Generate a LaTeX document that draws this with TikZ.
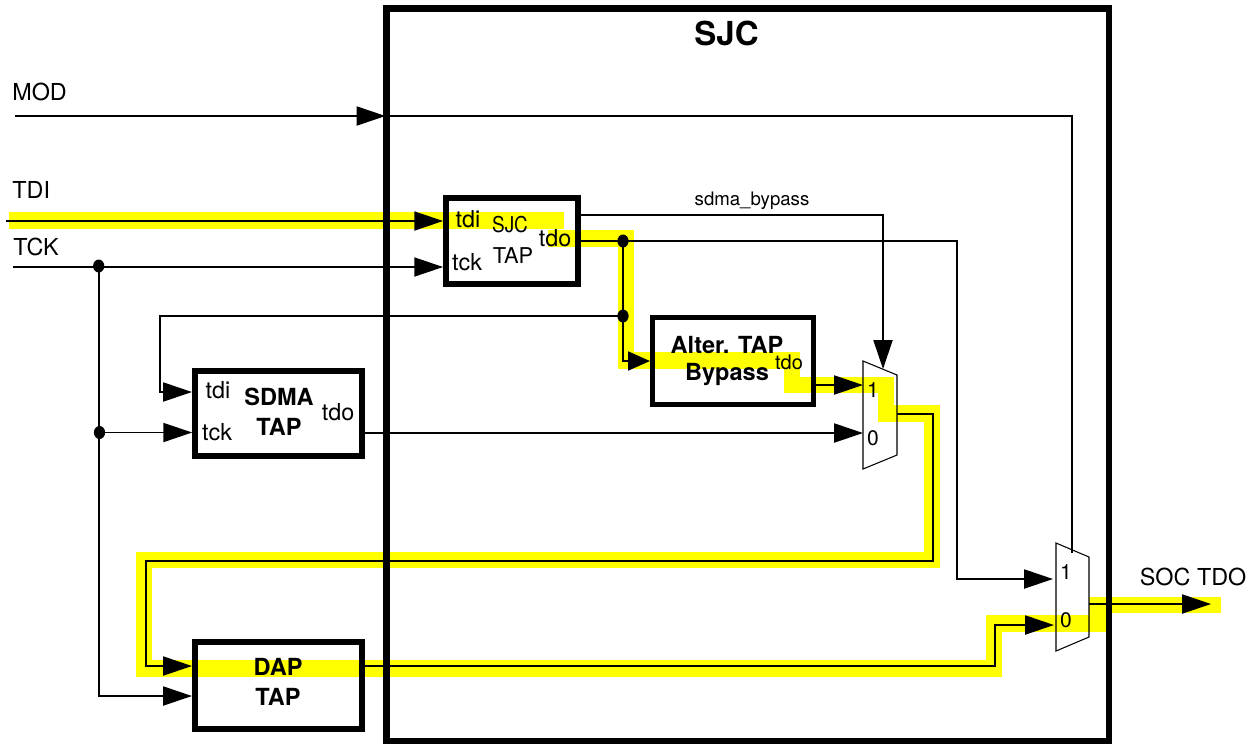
\documentclass[tikz,border=0pt]{standalone}
\usepackage{fontspec}
\setmainfont{TeX Gyre Heros}
\usetikzlibrary{arrows.meta, calc, shapes.geometric}
\definecolor{TraceYellow}{HTML}{FFFF00}
\newcommand{\LabelFont}{\fontsize{13.3pt}{15pt}\selectfont}
\newcommand{\TitleFont}{\bfseries\fontsize{18.8pt}{20pt}\selectfont}
\tikzset{
  wire/.style={line width=1.1pt},
  tipwire/.style={wire, -{Triangle[length=16.4pt,width=10.8pt]}},
  shorttip/.style={wire, -{Triangle[length=12.5pt,width=10.8pt]}},
  tracepath/.style={TraceYellow, line width=9.6pt, miter limit=10},
  muxline/.style={line width=0.6pt, line join=miter},
  tapbox/.style={draw, line width=3.3pt, inner sep=0pt},
  jdot/.style={ellipse, fill=black, inner sep=0pt, minimum width=6.4pt, minimum height=7.4pt},
  lab/.style={inner sep=0pt, font=\LabelFont},
  boxname/.style={inner sep=0pt, font=\bfseries\fontsize{13.4pt}{15pt}\selectfont}
}

\begin{document}
\begin{tikzpicture}[x=0.02cm, y=-0.02cm]
  \useasboundingbox (0,0) rectangle (1256,745);
  % highlighted scan route, under everything else
  \draw[tracepath] (9,220.5) -- (564,220.5);
  \draw[tracepath] (548,238.5) -- (626,238.5) -- (626,360.5) -- (792,360.5) -- (792,385)
    -- (886,385) -- (886,413.5) -- (932,413.5) -- (932,560) -- (144,560) -- (144,668.5)
    -- (994,668.5) -- (994,623.5) -- (1097.5,623.5) -- (1097.5,605) -- (1221,605);
  % outer block and the four boxes
  \node[draw, line width=3.9pt, inner sep=0pt, minimum width=14.46cm, minimum height=14.66cm] (sjc) at (747.5,374.5) {};
  \node[tapbox, minimum width=2.64cm, minimum height=1.72cm] (sjctap) at (512,241) {};
  \node[tapbox, minimum width=3.22cm, minimum height=1.74cm] (alter) at (733,361) {};
  \node[tapbox, minimum width=3.34cm, minimum height=1.70cm] (sdma) at (278.5,413.5) {};
  \node[tapbox, minimum width=3.34cm, minimum height=1.74cm] (dap) at (278.5,685.5) {};
  % muxes
  \draw[muxline] (863,361) -- (897,375) -- (897,455) -- (863,469) -- cycle;
  \draw[muxline] (1056,543) -- (1089,557) -- (1089,637) -- (1056,651) -- cycle;
  % free ends and ports
  \coordinate (modin) at (15,116);
  \coordinate (tdiin) at (6,221);
  \coordinate (tckin) at (13,267);
  \coordinate (bypass) at (578,215);
  \coordinate (muxaone) at (863,385);
  \coordinate (muxazero) at (863,433);
  \coordinate (muxasel) at (883,369);
  \coordinate (muxaout) at (897,414);
  \coordinate (muxbone) at (1053,579);
  \coordinate (muxbzero) at (1054,625);
  \coordinate (muxbsel) at (1072,553);
  \coordinate (muxbout) at (1089,604);
  \coordinate (socout) at (1211,604);
  \coordinate (alterin) at (650,361);
  \coordinate (sdmaup) at (160,316);
  \coordinate (sdmain) at (192,392);
  \coordinate (daptck) at (192,696);
  \coordinate (dapin) at (192,666);
  \coordinate (tdocorner) at (957,241);
  \coordinate (loopright) at (933,561);
  \coordinate (loopleft) at (146,561);
  \coordinate (dapjog) at (995,625);
  % junction dots
  \node[jdot] (dottck) at (98.7,266) {};
  \node[jdot] (dotsdma) at (99.5,432.5) {};
  \node[jdot] (dottdo) at (623,241) {};
  \node[jdot] (dotalt) at (623,316) {};
  % connectors
  \draw[tipwire, shorten >=-1.6pt] (modin) -- (modin -| sjc.west);
  \draw[wire] (modin -| sjc.west) -| (muxbsel);
  \draw[tipwire] (tdiin) -- (tdiin -| sjctap.west);
  \draw[tipwire] (tckin) -- (tckin -| sjctap.west);
  \draw[tipwire] (dottck.center) |- (daptck);
  \draw[tipwire] (dotsdma.center) -- (dotsdma.center -| sdma.west);
  \draw[tipwire] (sjctap.east |- bypass) -| (muxasel);
  \draw[wire] (sjctap.east |- tdocorner) -- (dottdo.center);
  \draw[tipwire] (dottdo.center) -- (tdocorner) |- (muxbone);
  \draw[shorttip] (dottdo.center) |- (alterin);
  \draw[tipwire] (dotalt.center) -- (sdmaup) |- (sdmain);
  \draw[tipwire] (alter.east |- muxaone) -- (muxaone);
  \draw[tipwire] (sdma.east |- muxazero) -- (muxazero);
  \draw[tipwire] (muxaout) -| (loopright) -- (loopleft) |- (dapin);
  \draw[tipwire] (dap.east |- dapin) -| (dapjog) -- (muxbzero);
  \draw[tipwire] (muxbout) -- (socout);
  % outside labels
  \node[lab, anchor=west] (modlab) at (12,92) {MOD};
  \node[lab, anchor=west] (tdilab) at (12,190) {TDI};
  \node[lab, anchor=west] (tcklab) at (13,247) {TCK};
  \node[lab, anchor=west] (soclab) at (1139.5,577) {SOC TDO};
  \node[inner sep=0pt, font=\TitleFont] (sjclab) at (726.5,33) {SJC};
  \node[inner sep=0pt, font=\fontsize{10.6pt}{12pt}\selectfont] (byplab) at (752,201) {sdma\_bypass};
  % SJC TAP
  \node[lab] (sjctdi) at (468,219) {tdi};
  \node[lab] (sjctck) at (467,262) {tck};
  \node[inner sep=0pt, font=\fontsize{12.4pt}{14pt}\selectfont, xscale=0.87, transform shape] (sjcname) at (510,225) {SJC};
  \node[inner sep=0pt, font=\fontsize{12.4pt}{14pt}\selectfont] (sjctapname) at (513,256) {TAP};
  \node[lab] (sjctdo) at (555,238.5) {tdo};
  % alter. bypass
  \node[boxname] (altname) at (727,345) {Alter. TAP};
  \node[boxname] (bypname) at (727,374) {Bypass};
  \node[inner sep=0pt, font=\fontsize{11.4pt}{13pt}\selectfont] (alttdo) at (789,362) {tdo};
  % SDMA TAP
  \node[lab] (sdmatdi) at (218,390) {tdi};
  \node[lab] (sdmatck) at (217,432) {tck};
  \node[boxname] (sdmaname) at (279,397) {SDMA};
  \node[boxname] (sdmatap) at (279,427) {TAP};
  \node[lab] (sdmatdo) at (338,412) {tdo};
  % DAP TAP
  \node[boxname] (dapname) at (278,667) {DAP};
  \node[boxname] (daptap) at (278,697) {TAP};
  % mux inputs
  \node[inner sep=0pt, font=\fontsize{12pt}{14pt}\selectfont] (muxaonelab) at (873,390) {1};
  \node[inner sep=0pt, font=\fontsize{12pt}{14pt}\selectfont] (muxazerolab) at (873,438) {0};
  \node[inner sep=0pt, font=\fontsize{12pt}{14pt}\selectfont] (muxbonelab) at (1066,572) {1};
  \node[inner sep=0pt, font=\fontsize{12pt}{14pt}\selectfont] (muxbzerolab) at (1066,620) {0};
\end{tikzpicture}
\end{document}
